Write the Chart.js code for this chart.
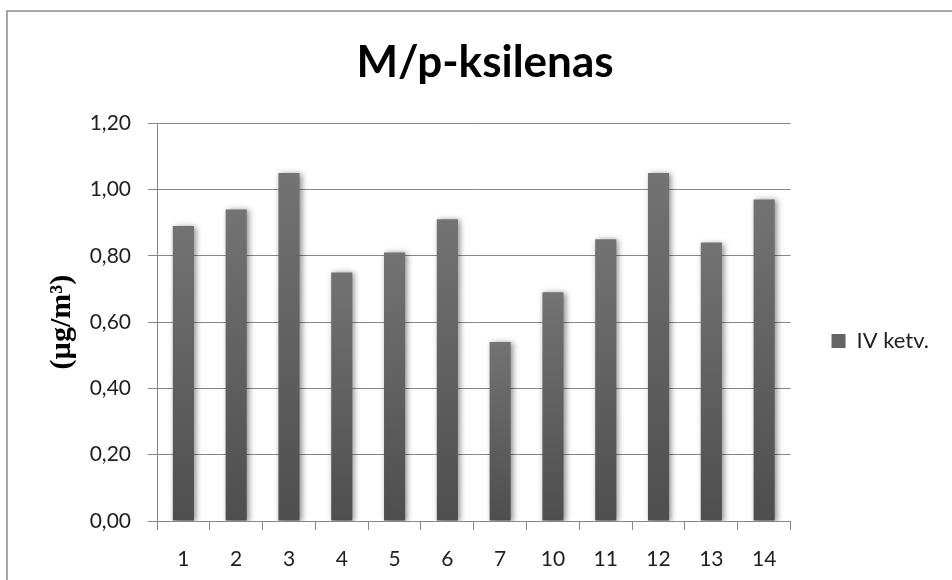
<!DOCTYPE html>
<html>
<head>
<meta charset="utf-8">
<script src="https://cdn.jsdelivr.net/npm/chart.js@4"></script>
<style>
  html, body { margin: 0; padding: 0; background: #fff; }
  canvas { display: block; }
</style>
</head>
<body>
<canvas id="c" width="952" height="580"></canvas>
<script>
// Monitoring points and the quarterly average concentration at each
const categories = ['1', '2', '3', '4', '5', '6', '7', '10', '11', '12', '13', '14'];
const ivKetv = [0.89, 0.94, 1.05, 0.75, 0.81, 0.91, 0.54, 0.69, 0.85, 1.05, 0.84, 0.97];
const seriesName = 'IV ketv.';
const chartTitle = 'M/p-ksilenas';
const yAxisTitle = '(\u00b5g/m\u00b3)';

const GRID = '#878787';
const TEXT = '#1e1e1e';

// white page with a thin outer frame
const framePlugin = {
  id: 'frame',
  beforeDraw(chart) {
    const ctx = chart.ctx;
    ctx.save();
    ctx.fillStyle = '#fff';
    ctx.fillRect(0, 0, chart.width, chart.height);
    ctx.strokeStyle = '#8a8a8a';
    ctx.lineWidth = 1.5;
    ctx.strokeRect(7, 11, chart.width + 20, chart.height + 20);
    ctx.restore();
  }
};

// soft drop shadow under the columns
const shadowPlugin = {
  id: 'barShadow',
  beforeDatasetsDraw(chart) {
    const ctx = chart.ctx;
    ctx.save();
    ctx.shadowColor = 'rgba(0,0,0,0.45)';
    ctx.shadowBlur = 6;
    ctx.shadowOffsetX = 2;
    ctx.shadowOffsetY = 1;
  },
  afterDatasetsDraw(chart) {
    chart.ctx.restore();
  }
};

// lower the legend a little below the vertical middle
const legendOffset = {
  id: 'legendOffset',
  afterLayout(chart) {
    if (chart.legend) chart.legend.top += 102;
  }
};

function barFill(c) {
  if (c.type !== 'data' || !c.chart.chartArea) return '#616161';
  const y = c.chart.scales.y;
  const top = y.getPixelForValue(c.raw);
  const base = y.getPixelForValue(0);
  const g = c.chart.ctx.createLinearGradient(0, top, 0, base);
  g.addColorStop(0, '#737373');
  g.addColorStop(1, '#4e4e4e');
  return g;
}

new Chart(document.getElementById('c'), {
  type: 'bar',
  data: {
    labels: categories,
    datasets: [{
      label: seriesName,
      data: ivKetv,
      backgroundColor: barFill,
      borderWidth: 0,
      barPercentage: 0.4,
      categoryPercentage: 1.0
    }]
  },
  options: {
    responsive: false,
    animation: false,
    devicePixelRatio: 1,
    layout: { padding: { left: 31, right: 13, top: 0, bottom: 0 } },
    plugins: {
      title: {
        display: true,
        text: chartTitle,
        color: '#000',
        font: { family: 'Lato', size: 44, weight: 'bold' },
        padding: { top: 36, bottom: 34.4 }
      },
      legend: {
        position: 'right',
        labels: {
          color: TEXT,
          font: { family: 'Lato', size: 22 },
          boxWidth: 14,
          boxHeight: 14,
          padding: 41
        }
      },
      tooltip: { enabled: false }
    },
    scales: {
      x: {
        offset: true,
        grid: {
          offset: true,
          drawOnChartArea: false,
          drawTicks: true,
          tickLength: 9,
          color: GRID
        },
        border: { color: GRID, width: 1 },
        ticks: {
          color: TEXT,
          font: { family: 'Lato', size: 21 },
          padding: 17,
          maxRotation: 0
        },
        afterFit(scale) { scale.height = 59; }
      },
      y: {
        min: 0,
        max: 1.2,
        ticks: {
          stepSize: 0.2,
          color: TEXT,
          font: { family: 'Lato', size: 21 },
          padding: 17,
          callback: v => Number(v).toFixed(2).replace('.', ',')
        },
        grid: { color: GRID, tickLength: 9 },
        border: { color: GRID, width: 1 },
        title: {
          display: true,
          text: yAxisTitle,
          color: '#000',
          font: { family: 'Liberation Serif', size: 30, weight: 'bold' },
          padding: { top: 13, bottom: 0 }
        },
        afterFit(scale) { scale.width = 126; }
      }
    }
  },
  plugins: [framePlugin, shadowPlugin, legendOffset]
});
</script>
</body>
</html>
